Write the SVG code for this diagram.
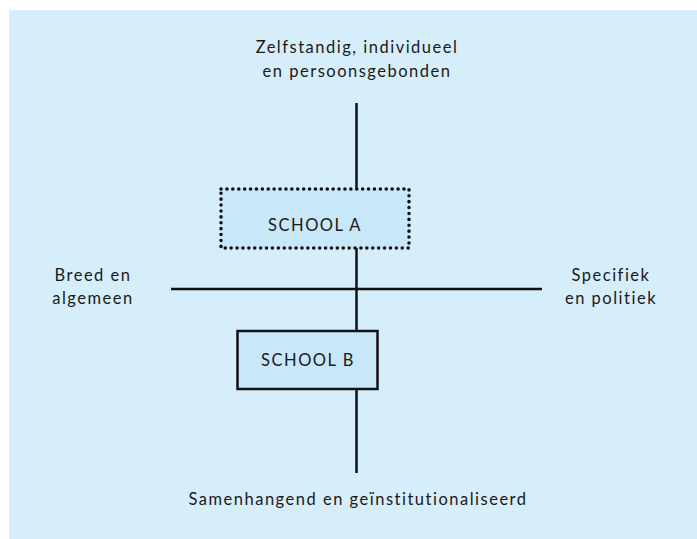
<svg xmlns="http://www.w3.org/2000/svg" width="697" height="539" viewBox="0 0 697 539">
<style>
text{font-family:"Lato","Liberation Sans",sans-serif;font-size:16.5px;letter-spacing:1.5px;fill:#1a1a1a;text-anchor:middle}
.box{fill:#c8e7f8;stroke:#111}
.ln{stroke:#111;stroke-width:2.5;fill:none}
</style>
<rect x="9" y="10" width="688" height="529" fill="#d6eefa"/>
<g id="connectors">
<line class="ln" x1="356.5" y1="103" x2="356.5" y2="473"/>
<line class="ln" x1="171" y1="289" x2="542" y2="289"/>
</g>
<g id="schoolA">
<rect class="box" x="221" y="189" width="188" height="59" stroke-width="3.5" stroke-dasharray="0.1 5.8" stroke-linecap="round"/>
<text x="315" y="231">SCHOOL A</text>
</g>
<g id="schoolB">
<rect class="box" x="237.5" y="331" width="140" height="58" stroke-width="2.5"/>
<text x="308" y="366">SCHOOL B</text>
</g>
<g id="top">
<text x="357" y="53">Zelfstandig, individueel</text>
<text x="357" y="77">en persoonsgebonden</text>
</g>
<g id="left">
<text x="93" y="281">Breed en</text>
<text x="93" y="304">algemeen</text>
</g>
<g id="right">
<text x="611" y="281">Specifiek</text>
<text x="611" y="304">en politiek</text>
</g>
<g id="bottom">
<text x="358" y="505">Samenhangend en geïnstitutionaliseerd</text>
</g>
</svg>
